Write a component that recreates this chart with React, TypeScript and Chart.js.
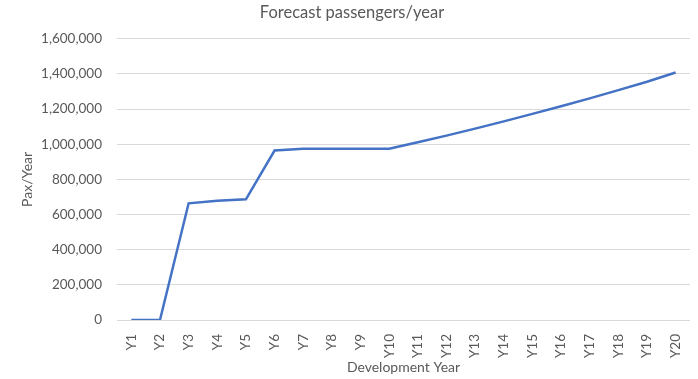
import React, { useEffect, useRef } from "react";
import { Chart, registerables } from "chart.js";

Chart.register(...registerables);

// Development years on the horizontal axis
const years: string[] = [
  "Y1", "Y2", "Y3", "Y4", "Y5", "Y6", "Y7", "Y8", "Y9", "Y10",
  "Y11", "Y12", "Y13", "Y14", "Y15", "Y16", "Y17", "Y18", "Y19", "Y20",
];

// Forecast passengers per year
const passengers: number[] = [
  0, 0, 664000, 679000, 687000, 964000, 974000, 974000, 974000, 974000,
  1011000, 1049000, 1089000, 1130000, 1173000, 1216000, 1261000, 1308000, 1356000, 1408000,
];

// Value axis range
const yMin = 0;
const yMax = 1600000;
const yStep = 200000;

const FONT = "Lato, 'Open Sans', 'Liberation Sans', sans-serif";
const TEXT = "#595959";

export default function App() {
  const canvasRef = useRef<HTMLCanvasElement | null>(null);

  useEffect(() => {
    document.body.style.margin = "0";
    const canvas = canvasRef.current;
    if (!canvas) return;
    const chart = new Chart(canvas, {
      type: "line",
      data: {
        labels: years,
        datasets: [
          {
            label: "Passengers",
            data: passengers,
            borderColor: "#4472C4",
            backgroundColor: "#4472C4",
            borderWidth: 2.5,
            pointRadius: 0,
            tension: 0,
            fill: false,
          },
        ],
      },
      options: {
        animation: false,
        responsive: false,
        maintainAspectRatio: false,
        layout: { padding: { left: 12, right: 6, top: 0, bottom: 0 } },
        plugins: {
          legend: { display: false },
          tooltip: { enabled: false },
          title: {
            display: true,
            text: "Forecast passengers/year",
            color: TEXT,
            font: { family: FONT, size: 16.5, weight: "normal" },
            padding: { top: 3, bottom: 16 },
          },
        },
        scales: {
          x: {
            offset: true,
            grid: { display: false },
            border: { display: false },
            ticks: {
              color: TEXT,
              font: { family: FONT, size: 13.5 },
              minRotation: 90,
              maxRotation: 90,
              padding: 6,
              autoSkip: false,
            },
            title: {
              display: true,
              text: "Development Year",
              color: TEXT,
              font: { family: FONT, size: 14 },
              padding: { top: 2, bottom: 3 },
            },
            afterFit: (scale: any) => {
              scale.height = 59;
            },
          },
          y: {
            min: yMin,
            max: yMax,
            grid: { color: "#d9d9d9", lineWidth: 1, drawTicks: false },
            border: { display: false },
            ticks: {
              stepSize: yStep,
              color: TEXT,
              font: { family: FONT, size: 13.5 },
              padding: 15,
              callback: (v: any) => Number(v).toLocaleString("en-US"),
            },
            title: {
              display: true,
              text: "Pax/Year",
              color: TEXT,
              font: { family: FONT, size: 14 },
              padding: { top: 7, bottom: 0 },
            },
            afterFit: (scale: any) => {
              scale.width = 105;
            },
          },
        },
      },
    });
    return () => chart.destroy();
  }, []);

  return (
    <div style={{ position: "absolute", left: 0, top: 0, width: 698, height: 379, background: "#fff" }}>
      <canvas ref={canvasRef} width={698} height={379} />
    </div>
  );
}
